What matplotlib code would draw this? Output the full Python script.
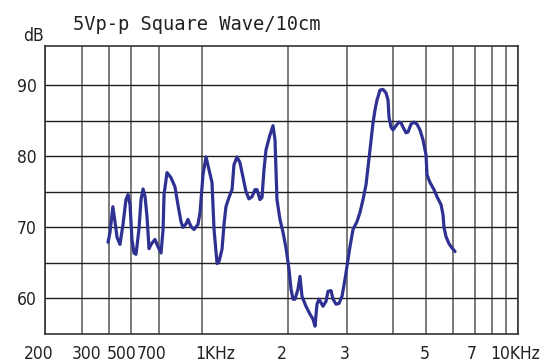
"""Frequency response of a speaker: 5Vp-p square wave at 10 cm."""

import matplotlib.pyplot as plt
import numpy as np
from matplotlib.ticker import FixedLocator, FixedFormatter, NullFormatter
from matplotlib.transforms import ScaledTranslation

# Frequency lines printed on the chart form and where they sit (0..1 of width)
grid_hz = [200, 300, 400, 500, 700, 1000, 2000, 3000, 4000, 5000,
           6000, 7000, 8000, 9000, 10000]
grid_frac = np.array([45, 82, 109, 131, 159, 202, 288, 347, 393, 426,
                      453, 475, 492, 506, 518], dtype=float)
grid_frac = (grid_frac - grid_frac[0]) / (grid_frac[-1] - grid_frac[0])

label_hz = [200, 300, 500, 700, 1000, 2000, 3000, 5000, 7000, 10000]
label_text = ["200", "300", "500", "700", "1KHz", "2", "3", "5", "7", "10KHz"]

db_ticks = [60, 70, 80, 90]
db_minor = [65, 75, 85]

# Measured curve
freq_hz = [
    396, 404, 416, 425, 434, 447, 461, 475, 485, 495,
    506, 518, 531, 550, 564, 578, 592, 606, 621, 636,
    667, 691, 712, 724, 730, 748, 773, 799, 819, 840,
    854, 876, 890, 913, 936, 967, 984, 1008, 1033, 1058,
    1084, 1102, 1129, 1147, 1175, 1194, 1213, 1243, 1274, 1294,
    1326, 1358, 1392, 1426, 1460, 1496, 1533, 1558, 1596, 1622,
    1648, 1675, 1730, 1772, 1801, 1830, 1875, 1921, 1968, 2014,
    2042, 2070, 2099, 2142, 2172, 2202, 2263, 2326, 2375, 2408,
    2441, 2475, 2509, 2544, 2597, 2633, 2688, 2725, 2782, 2840,
    2899, 2959, 3000, 3057, 3115, 3193, 3254, 3316, 3379, 3421,
    3464, 3530, 3574, 3619, 3688, 3757, 3829, 3877, 3901, 3950,
    4000, 4082, 4166, 4222, 4280, 4368, 4427, 4518, 4610, 4705,
    4801, 4900, 5000, 5034, 5137, 5278, 5385, 5533, 5608, 5646,
    5723, 5840, 5960, 6085,
]
level_db = [
    67.9, 69.3, 72.9, 70.8, 68.6, 67.6, 70.4, 73.9, 74.6, 73.2,
    68.3, 66.4, 66.2, 69.7, 73.9, 75.4, 74.3, 71.5, 67.0, 67.6,
    68.3, 67.3, 66.4, 69.7, 74.6, 77.7, 77.0, 75.7, 73.2, 70.8,
    70.0, 70.5, 71.1, 70.1, 69.7, 70.4, 72.1, 77.4, 79.9, 78.1,
    76.3, 69.7, 64.9, 65.2, 66.9, 70.4, 72.9, 74.2, 75.3, 78.8,
    79.9, 79.1, 77.0, 75.0, 74.0, 74.3, 75.3, 75.3, 73.9, 74.2,
    78.1, 80.9, 83.0, 84.3, 82.3, 73.9, 71.1, 69.3, 67.1, 64.1,
    61.3, 59.9, 59.9, 61.3, 63.1, 60.3, 58.9, 57.8, 57.1, 56.1,
    59.2, 59.9, 59.4, 58.9, 59.6, 61.0, 61.1, 59.9, 59.2, 59.3,
    60.3, 62.7, 64.5, 67.3, 69.7, 70.8, 72.1, 73.9, 76.0, 78.5,
    80.9, 84.7, 86.5, 87.9, 89.3, 89.4, 88.9, 87.9, 85.5, 84.1,
    83.7, 84.3, 84.8, 84.7, 84.1, 83.3, 83.4, 84.5, 84.8, 84.5,
    83.7, 82.3, 80.2, 77.4, 76.3, 75.3, 74.3, 73.2, 71.8, 70.0,
    68.7, 67.7, 67.1, 66.6,
]

log_grid = np.log10(grid_hz)


def forward(f):
    """Hz -> position on the hand-drawn frequency scale."""
    return np.interp(np.log10(np.clip(f, 1, None)), log_grid, grid_frac)


def inverse(p):
    return 10 ** np.interp(p, grid_frac, log_grid)


plt.rcParams["font.family"] = ["DejaVu Sans"]
plt.rcParams["font.stretch"] = "condensed"

fig = plt.figure(figsize=(5.5, 3.63), dpi=100)
ax = fig.add_axes([45 / 550, 1 - 334 / 363, 473 / 550, 288 / 363])

ax.set_xscale("function", functions=(forward, inverse))
ax.set_xlim(200, 10000)
ax.set_ylim(55, 95.5)

ax.plot(freq_hz, level_db, color="#2e3192", lw=2.3,
        solid_joinstyle="round", solid_capstyle="round", zorder=3)

# Grid of the chart form
ax.xaxis.set_major_locator(FixedLocator(label_hz))
ax.xaxis.set_major_formatter(FixedFormatter(label_text))
ax.xaxis.set_minor_locator(FixedLocator(grid_hz))
ax.xaxis.set_minor_formatter(NullFormatter())
ax.yaxis.set_major_locator(FixedLocator(db_ticks))
ax.yaxis.set_minor_locator(FixedLocator(db_minor))
ax.grid(which="both", axis="x", color="#7a7a7a", lw=1.4)
ax.grid(which="both", axis="y", color="#1e1e1e", lw=1.0)

ax.tick_params(which="both", length=0, labelsize=12.5, colors="#222222")
ax.tick_params(axis="x", pad=8)
ax.tick_params(axis="y", pad=6)

# the printed labels do not sit exactly on their lines
label_shift_px = [-6, 5, -9, -7, 13, -6, -2, -1, -3, -3]
for lab, dx in zip(ax.get_xticklabels(), label_shift_px):
    lab.set_transform(lab.get_transform() + ScaledTranslation(dx / 100, 0, fig.dpi_scale_trans))

for sp in ax.spines.values():
    sp.set_color("#333333")
    sp.set_linewidth(1.2)

fig.text(23 / 550, 1 - 36 / 363, "dB", fontsize=12.5, color="#222222", va="center")
fig.text(73 / 550, 1 - 24 / 363, "5Vp-p Square Wave/10cm", family="DejaVu Sans Mono",
         fontstretch="normal", fontsize=13.5, color="#222222", va="center")

fig.savefig("out.png", dpi=100)
